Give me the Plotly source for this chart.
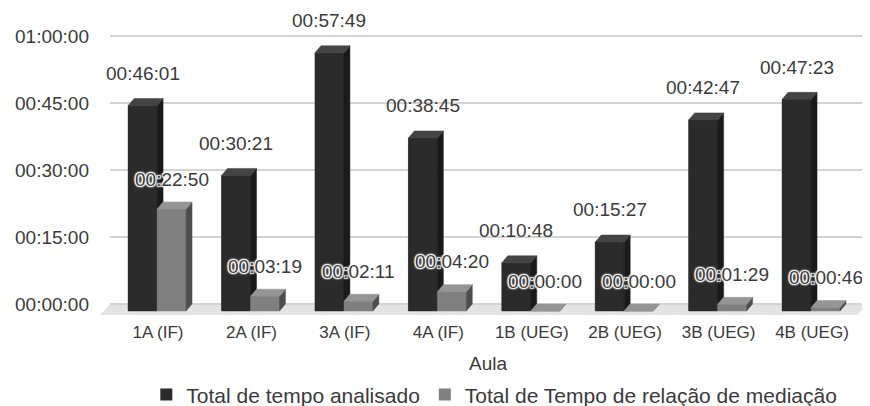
import plotly.graph_objects as go

# ---------------- data ----------------
categories = ["1A (IF)", "2A (IF)", "3A (IF)", "4A (IF)",
              "1B (UEG)", "2B (UEG)", "3B (UEG)", "4B (UEG)"]
total_tempo = ["00:46:01", "00:30:21", "00:57:49", "00:38:45",
               "00:10:48", "00:15:27", "00:42:47", "00:47:23"]
tempo_mediacao = ["00:22:50", "00:03:19", "00:02:11", "00:04:20",
                  "00:00:00", "00:00:00", "00:01:29", "00:00:46"]
y_tick_values = [0, 900, 1800, 2700, 3600]
y_tick_labels = ["00:00:00", "00:15:00", "00:30:00", "00:45:00", "01:00:00"]
series_names = ["Total de tempo analisado", "Total de Tempo de relação de mediação"]


def to_seconds(s):
    h, m, sec = (int(p) for p in s.split(":"))
    return h * 3600 + m * 60 + sec


total_s = [to_seconds(s) for s in total_tempo]
med_s = [to_seconds(s) for s in tempo_mediacao]
xpos = list(range(len(categories)))

# ---------------- style / geometry ----------------
FONT = "Liberation Sans, Arial, sans-serif"
TXT = "#3a3a3a"
BAR_W = 0.31          # front face width (category units)
DX = 0.064            # 3D depth in x (category units)
DY = 94               # 3D depth in y (seconds)
HALO = ("1px 1px 1px #fff, -1px -1px 1px #fff, 1px -1px 1px #fff, -1px 1px 1px #fff, "
        "0px 0px 3px #fff, 0px 0px 3px #fff")
series_cfg = [
    dict(vals=total_s, labels=total_tempo, offset=-0.32,
         front="#2b2b2b", side="#1a1a1a", top="#444444", shadow=None, lshift=25),
    dict(vals=med_s, labels=tempo_mediacao, offset=-0.01,
         front="#808080", side="#4e4e4e", top="#959595", shadow=HALO, lshift=23),
]

fig = go.Figure()

# legend carriers (front faces as real bars)
for name, cfg in zip(series_names, series_cfg):
    fig.add_trace(go.Bar(
        x=xpos, y=cfg["vals"], base=[-DY] * len(xpos),
        offset=cfg["offset"], width=BAR_W, name=name,
        marker=dict(color=cfg["front"], line=dict(width=0)),
        hoverinfo="skip",
    ))

# 3D faces drawn in stacking order
for cfg in series_cfg:
    fx, fy, sx, sy, tx, ty = [], [], [], [], [], []
    for c, v in zip(xpos, cfg["vals"]):
        x0 = c + cfg["offset"]
        x1 = x0 + BAR_W
        fx += [x0, x1, x1, x0, x0, None]
        fy += [-DY, -DY, v - DY, v - DY, -DY, None]
        sx += [x1, x1 + DX, x1 + DX, x1, x1, None]
        sy += [-DY, 0, v, v - DY, -DY, None]
        tx += [x0, x0 + DX, x1 + DX, x1, x0, None]
        ty += [v - DY, v, v, v - DY, v - DY, None]
    for xs, ys, col in ((fx, fy, cfg["front"]), (sx, sy, cfg["side"]), (tx, ty, cfg["top"])):
        fig.add_trace(go.Scatter(
            x=xs, y=ys, mode="lines", fill="toself", fillcolor=col,
            line=dict(color=col, width=0.5), showlegend=False, hoverinfo="skip",
        ))

# data labels
for cfg in series_cfg:
    for c, v, lab in zip(xpos, cfg["vals"], cfg["labels"]):
        font = dict(family=FONT, size=19, color=TXT)
        if cfg["shadow"]:
            font["shadow"] = cfg["shadow"]
        fig.add_annotation(
            x=c + cfg["offset"] + BAR_W / 2, y=v, text=lab, showarrow=False,
            yshift=cfg["lshift"], yanchor="middle", xanchor="center", font=font,
        )

# 3D floor
fig.add_shape(
    type="path", xref="paper", yref="paper", layer="below",
    path="M 0,0.0533 L 1,0.0533 L 0.989,0.0167 L -0.0132,0.0167 Z",
    fillcolor="#e3e3e3", line=dict(width=0),
)

fig.update_layout(
    width=870, height=406,
    margin=dict(l=102, r=12, t=12, b=94, autoexpand=False),
    paper_bgcolor="white", plot_bgcolor="white",
    barmode="overlay",
    font=dict(family=FONT, color=TXT, size=18),
    showlegend=True,
    legend=dict(orientation="h", xref="container", yref="container",
                x=0.559, y=0.047, xanchor="center", yanchor="middle",
                font=dict(size=21, color=TXT), itemwidth=30,
                traceorder="normal"),
    xaxis=dict(
        range=[-0.514, 7.578], tickmode="array", tickvals=xpos, ticktext=categories,
        showgrid=False, zeroline=False, showline=False, ticks="",
        tickfont=dict(size=17, color=TXT), automargin=False,
        title=dict(text="Aula", font=dict(size=19, color=TXT), standoff=16),
    ),
    yaxis=dict(
        range=[-215, 3815], tickmode="array", tickvals=y_tick_values,
        ticktext=y_tick_labels, showgrid=True, gridcolor="#d4d4d4", gridwidth=1.5,
        zeroline=False, showline=False, ticks="", ticklabelstandoff=20,
        tickfont=dict(size=19, color=TXT), automargin=False,
    ),
)

fig.write_html("out.html")
